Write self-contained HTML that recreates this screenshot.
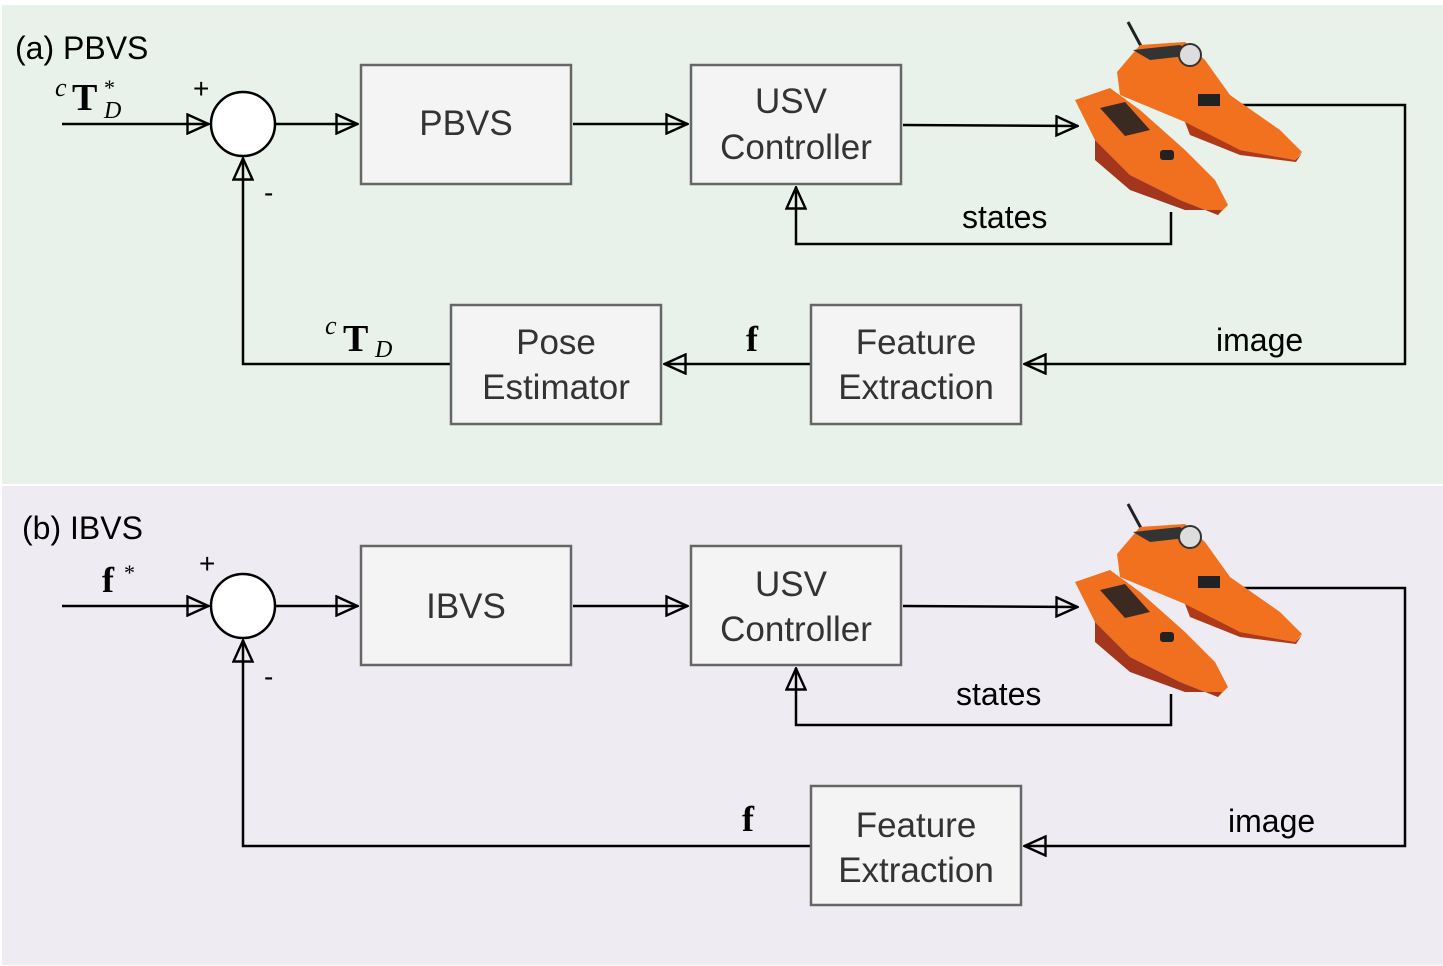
<!DOCTYPE html>
<html><head><meta charset="utf-8"><style>
html,body{margin:0;padding:0;background:#fff;}
svg{display:block;}
text{font-family:"Liberation Sans",sans-serif;}
text.m{font-family:"Liberation Serif",serif;}
</style></head><body>
<svg width="1443" height="966" viewBox="0 0 1443 966" xmlns="http://www.w3.org/2000/svg">
<defs>
<marker id="a" viewBox="0 0 24 22" refX="23" refY="11" markerWidth="24" markerHeight="22" markerUnits="userSpaceOnUse" orient="auto">
<path d="M1.5,1.5 L22.5,11 L1.5,20.5 Z" fill="none" stroke="#000" stroke-width="2.4"/>
</marker>
<g id="boat">
<line x1="1128" y1="22" x2="1142" y2="48" stroke="#222" stroke-width="3"/>
<path d="M1117,72 L1140,45 L1185,42 L1205,60 L1230,95 L1280,130 L1302,152 L1295,160 L1240,150 L1200,135 L1185,122 L1120,95 Z" fill="#f2711f"/>
<path d="M1133,50 L1180,45 L1195,55 L1150,60 Z" fill="#333"/>
<circle cx="1190" cy="55" r="11" fill="#ddd" stroke="#333" stroke-width="2"/>
<path d="M1185,122 L1240,150 L1295,160 L1302,153 L1296,162 L1240,155 L1190,135 Z" fill="#b03a18"/>
<path d="M1075,100 L1110,88 L1140,110 L1185,150 L1215,180 L1228,205 L1218,215 L1180,200 L1130,175 L1095,140 Z" fill="#f07020"/>
<path d="M1095,140 L1130,175 L1180,200 L1218,215 L1222,210 L1185,210 L1130,190 L1095,160 Z" fill="#a3361c"/>
<path d="M1100,108 L1125,102 L1150,130 L1125,136 Z" fill="#3a2a22"/>
<rect x="1160" y="150" width="14" height="10" rx="3" fill="#222"/>
<rect x="1198" y="94" width="22" height="12" fill="#222"/>
</g>
</defs>
<rect x="2" y="5" width="1441" height="479" fill="#e8f2ea"/>
<rect x="2" y="486" width="1441" height="479" fill="#efebf2"/>

<g stroke="#000" stroke-width="2.5" fill="none">
<line x1="62" y1="124" x2="209" y2="124" marker-end="url(#a)"/>
<line x1="276" y1="124" x2="358" y2="124" marker-end="url(#a)"/>
<line x1="573" y1="124" x2="688" y2="124" marker-end="url(#a)"/>
<line x1="903" y1="125" x2="1078" y2="126" marker-end="url(#a)"/>
<polyline points="1228,105 1405,105 1405,364 1024,364" marker-end="url(#a)"/>
<line x1="810" y1="364" x2="664" y2="364" marker-end="url(#a)"/>
<polyline points="450,364 243,364 243,158" marker-end="url(#a)"/>
<polyline points="1171,212 1171,244 796,244 796,187" marker-end="url(#a)"/>
</g>
<use href="#boat"/>
<circle cx="243" cy="124" r="32" fill="#fff" stroke="#000" stroke-width="2.5"/>
<g fill="#f4f4f4" stroke="#666" stroke-width="2.5">
<rect x="361" y="65" width="210" height="119"/>
<rect x="691" y="65" width="210" height="119"/>
<rect x="451" y="305" width="210" height="119"/>
<rect x="811" y="305" width="210" height="119"/>
</g>
<g font-size="35" fill="#333" text-anchor="middle">
<text x="466" y="135">PBVS</text>
<text x="791" y="113">USV</text>
<text x="796" y="159">Controller</text>
<text x="556" y="354">Pose</text>
<text x="556" y="399">Estimator</text>
<text x="916" y="354">Feature</text>
<text x="916" y="399">Extraction</text>
</g>
<g font-size="32" fill="#000">
<text x="15" y="59">(a) PBVS</text>
<text x="962" y="228">states</text>
<text x="1216" y="351">image</text>
<text x="193" y="98" font-size="28">+</text>
<text x="264" y="202" font-size="28">-</text>
</g>
<g fill="#000">
<text class="m" x="55" y="96" font-size="26" font-style="italic">c</text>
<text class="m" x="72" y="110" font-size="38" font-weight="bold">T</text>
<text class="m" x="104" y="95" font-size="22">*</text>
<text class="m" x="104" y="118" font-size="24" font-style="italic">D</text>
<text class="m" x="325" y="334" font-size="26" font-style="italic">c</text>
<text class="m" x="343" y="351" font-size="38" font-weight="bold">T</text>
<text class="m" x="375" y="357" font-size="24" font-style="italic">D</text>
<text class="m" x="746" y="351" font-size="36" font-weight="bold">f</text>
</g>

<g stroke="#000" stroke-width="2.5" fill="none">
<line x1="62" y1="606" x2="209" y2="606" marker-end="url(#a)"/>
<line x1="276" y1="606" x2="358" y2="606" marker-end="url(#a)"/>
<line x1="573" y1="606" x2="688" y2="606" marker-end="url(#a)"/>
<line x1="903" y1="606" x2="1078" y2="607" marker-end="url(#a)"/>
<polyline points="1228,588 1405,588 1405,846 1024,846" marker-end="url(#a)"/>
<polyline points="810,846 243,846 243,640" marker-end="url(#a)"/>
<polyline points="1171,694 1171,725 796,725 796,668" marker-end="url(#a)"/>
</g>
<use href="#boat" transform="translate(0,482)"/>
<circle cx="243" cy="606" r="32" fill="#fff" stroke="#000" stroke-width="2.5"/>
<g fill="#f4f4f4" stroke="#666" stroke-width="2.5">
<rect x="361" y="546" width="210" height="119"/>
<rect x="691" y="546" width="210" height="119"/>
<rect x="811" y="786" width="210" height="119"/>
</g>
<g font-size="35" fill="#333" text-anchor="middle">
<text x="466" y="618">IBVS</text>
<text x="791" y="596">USV</text>
<text x="796" y="641">Controller</text>
<text x="916" y="837">Feature</text>
<text x="916" y="882">Extraction</text>
</g>
<g font-size="32" fill="#000">
<text x="22" y="539">(b) IBVS</text>
<text x="956" y="705">states</text>
<text x="1228" y="832">image</text>
<text x="199" y="573" font-size="28">+</text>
<text x="264" y="686" font-size="28">-</text>
</g>
<g fill="#000">
<text class="m" x="102" y="592" font-size="36" font-weight="bold">f</text>
<text class="m" x="124" y="580" font-size="22">*</text>
<text class="m" x="742" y="831" font-size="36" font-weight="bold">f</text>
</g>
</svg>
</body></html>
